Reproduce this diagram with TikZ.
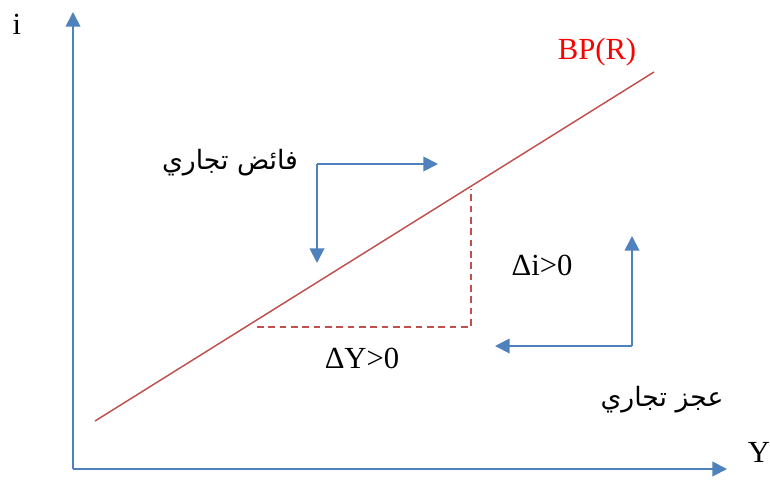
\documentclass[tikz,border=0pt]{standalone}
\usepackage{fontspec}
\setmainfont{Liberation Serif}
\newfontfamily\arabicfont[Script=Arabic]{DejaVu Sans}
\TeXXeTstate=1
\usetikzlibrary{arrows.meta}
\definecolor{bpblue}{RGB}{79,129,189}
\definecolor{bpred}{RGB}{192,80,77}

\begin{document}
\begin{tikzpicture}[x=0.75pt, y=-0.75pt,
  every node/.style={font=\fontsize{23}{26}\selectfont, inner sep=0pt},
  arr/.style={-{Triangle[length=11pt, width=11pt]}, line width=1.4pt, color=bpblue},
  bpline/.style={line width=1.1pt, color=bpred},
  guide/.style={line width=1.1pt, color=bpred, dash pattern=on 5pt off 3.5pt},
  arlabel/.style={font=\arabicfont\fontsize{20}{24}\selectfont},
]
\useasboundingbox (0,0) rectangle (770,479);

% axes
\coordinate (origin) at (73,469);
\coordinate (ytop)   at (73,12);
\coordinate (xend)   at (727,469);
\draw[arr] (origin) -- (ytop);
\draw[arr] (origin) -- (xend);
\node (ilab) at (17,24) {i};
\node (ylab) at (759,452) {Y};

% BP curve
\coordinate (bpstart) at (95,421);
\coordinate (bpend)   at (654,72);
\draw[bpline] (bpstart) -- (bpend);
\node[text=red] (bplab) at (597,52) {BP(R)};

% change in Y and i
\coordinate (dyl) at (257,327);
\coordinate (dyr) at (471,327);
\coordinate (dit) at (471,189);
\draw[guide] (dyl) -- (dyr) -- (dit);
\node (dy) at (362,358) {ΔY>0};
\node (di) at (542,265) {Δi>0};

% trade surplus
\coordinate (sc) at (317,164);
\coordinate (sr) at (438,164);
\coordinate (sd) at (317,263);
\draw[arr] (sc) -- (sr);
\draw[arr] (sc) -- (sd);
\node[arlabel] (surplus) at (230,163) {\beginR فائض تجاري\endR};

% trade deficit
\coordinate (dc) at (632,346);
\coordinate (du) at (632,236);
\coordinate (dl) at (495,346);
\draw[arr] (dc) -- (du);
\draw[arr] (dc) -- (dl);
\node[arlabel] (deficit) at (662,400) {\beginR عجز تجاري\endR};

\end{tikzpicture}
\end{document}
